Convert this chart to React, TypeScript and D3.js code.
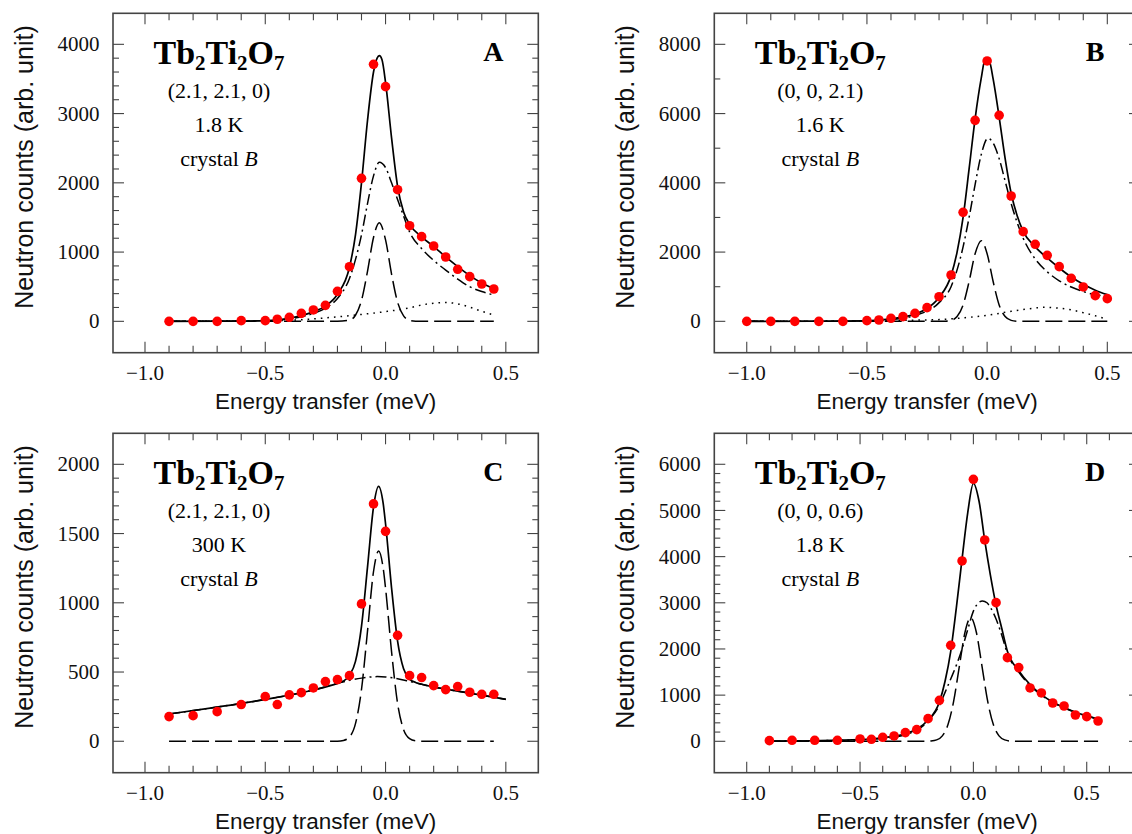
import React from 'react';
import * as d3 from 'd3';

type P = [number, number];

// ---------------- Panel A : (2.1, 2.1, 0), 1.8 K ----------------
const pointsA: P[] = [
  [-0.9, 0], [-0.8, 0], [-0.7, 0], [-0.6, 10], [-0.5, 10], [-0.45, 30], [-0.4, 58], [-0.35, 115],
  [-0.3, 164], [-0.25, 231], [-0.2, 433], [-0.15, 789], [-0.1, 2065], [-0.05, 3711], [0, 3389],
  [0.05, 1901], [0.1, 1381], [0.15, 1223], [0.2, 1088], [0.25, 929], [0.3, 751], [0.35, 645],
  [0.4, 539], [0.45, 467],
];
const solidA: P[] = [
  [-0.9, 0], [-0.7, 2], [-0.5, 12], [-0.4, 45], [-0.3, 140], [-0.25, 220], [-0.2, 390], [-0.15, 780],
  [-0.125, 1250], [-0.1, 2000], [-0.075, 2900], [-0.05, 3600], [-0.035, 3800], [-0.026, 3836],
  [-0.015, 3780], [0, 3450], [0.025, 2650], [0.05, 1950], [0.075, 1580], [0.1, 1400], [0.15, 1220],
  [0.2, 1080], [0.25, 930], [0.3, 790], [0.35, 660], [0.4, 555], [0.45, 475],
];
const dashdotA: P[] = [
  [-0.9, 0], [-0.5, 8], [-0.4, 35], [-0.3, 115], [-0.25, 190], [-0.2, 330], [-0.15, 620], [-0.1, 1250],
  [-0.075, 1700], [-0.05, 2100], [-0.026, 2296], [0, 2220], [0.025, 2000], [0.05, 1760], [0.075, 1520],
  [0.1, 1290], [0.15, 1050], [0.2, 880], [0.25, 740], [0.3, 610], [0.35, 500], [0.4, 430], [0.45, 380],
];
const dashedA: P[] = [
  [-0.9, 0], [-0.3, 0], [-0.2, 1], [-0.15, 18], [-0.125, 88], [-0.1, 302], [-0.075, 722], [-0.05, 1211],
  [-0.026, 1425], [0, 1176], [0.025, 682], [0.05, 277], [0.075, 79], [0.1, 16], [0.125, 2], [0.15, 0],
  [0.45, 0],
];
const dottedA: P[] = [
  [-0.9, 0], [-0.6, 3], [-0.4, 15], [-0.3, 35], [-0.2, 65], [-0.1, 100], [0, 140], [0.1, 195],
  [0.15, 235], [0.2, 262], [0.25, 272], [0.3, 252], [0.35, 205], [0.4, 145], [0.45, 92],
];

// ---------------- Panel B : (0, 0, 2.1), 1.6 K ----------------
const pointsB: P[] = [
  [-1.0, 0], [-0.9, 0], [-0.8, 0], [-0.7, 0], [-0.6, 0], [-0.5, 19], [-0.45, 38], [-0.4, 87],
  [-0.35, 135], [-0.3, 231], [-0.25, 395], [-0.2, 712], [-0.15, 1338], [-0.1, 3148], [-0.05, 5805],
  [0, 7519], [0.05, 5950], [0.1, 3620], [0.15, 2590], [0.2, 2224], [0.25, 1906], [0.3, 1579],
  [0.35, 1242], [0.4, 992], [0.45, 741], [0.5, 655],
];
const solidB: P[] = [
  [-1.0, 0], [-0.7, 3], [-0.5, 15], [-0.4, 70], [-0.3, 210], [-0.25, 370], [-0.2, 690], [-0.15, 1320],
  [-0.125, 2000], [-0.1, 3000], [-0.075, 4400], [-0.05, 5850], [-0.025, 7000], [-0.007, 7596],
  [0.01, 7500], [0.025, 7000], [0.05, 5900], [0.075, 4700], [0.1, 3700], [0.125, 3050], [0.15, 2600],
  [0.2, 2150], [0.25, 1830], [0.3, 1540], [0.35, 1280], [0.4, 1070], [0.45, 900], [0.5, 770],
];
const dashdotB: P[] = [
  [-1.0, 0], [-0.5, 10], [-0.4, 50], [-0.3, 170], [-0.2, 540], [-0.15, 1000], [-0.1, 2150],
  [-0.075, 3000], [-0.05, 3950], [-0.025, 4800], [0.003, 5285], [0.025, 5150], [0.05, 4700],
  [0.075, 4050], [0.1, 3400], [0.15, 2400], [0.2, 1800], [0.25, 1430], [0.3, 1170], [0.35, 990],
  [0.4, 860], [0.45, 770], [0.5, 720],
];
const dashedB: P[] = [
  [-1.0, 0], [-0.3, 0], [-0.175, 4], [-0.15, 28], [-0.125, 137], [-0.1, 473], [-0.075, 1149],
  [-0.05, 1952], [-0.024, 2330], [0, 1952], [0.025, 1149], [0.05, 473], [0.075, 137], [0.1, 28],
  [0.125, 4], [0.15, 0], [0.5, 0],
];
const dottedB: P[] = [
  [-1.0, 0], [-0.7, 5], [-0.5, 15], [-0.3, 35], [-0.2, 50], [-0.1, 100], [0, 175], [0.1, 290],
  [0.15, 340], [0.2, 385], [0.235, 404], [0.3, 380], [0.35, 330], [0.4, 250], [0.45, 160], [0.5, 60],
];

// ---------------- Panel C : (2.1, 2.1, 0), 300 K ----------------
const pointsC: P[] = [
  [-0.9, 178], [-0.8, 185], [-0.7, 214], [-0.6, 265], [-0.5, 323], [-0.45, 265], [-0.4, 335],
  [-0.35, 351], [-0.3, 385], [-0.25, 431], [-0.2, 445], [-0.15, 474], [-0.1, 992], [-0.05, 1714],
  [0, 1516], [0.05, 765], [0.1, 474], [0.15, 460], [0.2, 402], [0.25, 373], [0.3, 395], [0.35, 354],
  [0.4, 339], [0.45, 339],
];
const solidC: P[] = [
  [-0.9, 197], [-0.7, 247], [-0.5, 302], [-0.3, 370], [-0.2, 418], [-0.175, 435], [-0.15, 476],
  [-0.125, 577], [-0.1, 830], [-0.075, 1257], [-0.05, 1691], [-0.029, 1841], [-0.01, 1719],
  [0, 1571], [0.025, 1107], [0.05, 724], [0.075, 524], [0.1, 449], [0.125, 425], [0.15, 412],
  [0.2, 392], [0.3, 362], [0.4, 333], [0.5, 303],
];
const dashdotC: P[] = [
  [-0.9, 197], [-0.7, 247], [-0.5, 302], [-0.3, 370], [-0.2, 418], [-0.15, 440], [-0.1, 456],
  [-0.05, 466], [-0.035, 467], [0, 464], [0.05, 452], [0.1, 432], [0.15, 412], [0.2, 392],
  [0.3, 362], [0.4, 333], [0.5, 303],
];
const dashedC: P[] = [
  [-0.9, 0], [-0.25, 0], [-0.2, 1], [-0.175, 6], [-0.15, 31], [-0.125, 127], [-0.1, 374],
  [-0.075, 795], [-0.05, 1226], [-0.029, 1374], [-0.01, 1252], [0, 1106], [0.025, 647], [0.05, 274],
  [0.075, 84], [0.1, 19], [0.125, 3], [0.15, 0], [0.45, 0],
];

// ---------------- Panel D : (0, 0, 0.6), 1.8 K ----------------
const pointsD: P[] = [
  [-0.9, 14], [-0.8, 22], [-0.7, 22], [-0.6, 22], [-0.5, 51], [-0.45, 43], [-0.4, 87], [-0.35, 116],
  [-0.3, 188], [-0.25, 253], [-0.2, 491], [-0.15, 888], [-0.1, 2079], [-0.05, 3906], [0, 5675],
  [0.05, 4361], [0.1, 3003], [0.15, 1812], [0.2, 1596], [0.25, 1155], [0.3, 1047], [0.35, 830],
  [0.4, 765], [0.45, 570], [0.5, 534], [0.55, 440],
];
const solidD: P[] = [
  [-0.9, 5], [-0.7, 12], [-0.5, 35], [-0.4, 75], [-0.3, 165], [-0.25, 260], [-0.2, 460], [-0.15, 850],
  [-0.125, 1300], [-0.1, 1950], [-0.075, 2900], [-0.05, 3950], [-0.025, 4950], [0, 5588],
  [0.025, 5200], [0.05, 4350], [0.075, 3600], [0.1, 2950], [0.125, 2450], [0.15, 1950], [0.2, 1530],
  [0.25, 1230], [0.3, 1010], [0.35, 850], [0.4, 730], [0.45, 630], [0.5, 550], [0.55, 484],
];
const dashdotD: P[] = [
  [-0.9, 3], [-0.5, 30], [-0.4, 65], [-0.3, 140], [-0.2, 440], [-0.15, 780], [-0.125, 1060],
  [-0.1, 1350], [-0.075, 1650], [-0.05, 2000], [-0.025, 2420], [0, 2820], [0.025, 3010], [0.04, 3040],
  [0.06, 3000], [0.075, 2900], [0.1, 2650], [0.125, 2300], [0.15, 1900], [0.2, 1500], [0.25, 1210],
  [0.3, 1000], [0.35, 845], [0.4, 725], [0.45, 628], [0.5, 548], [0.55, 482],
];
const dashedD: P[] = [
  [-0.9, 0], [-0.3, 0], [-0.212, 0], [-0.187, 6], [-0.162, 30], [-0.137, 118], [-0.112, 362],
  [-0.087, 869], [-0.062, 1624], [-0.037, 2362], [-0.012, 2677], [0.013, 2362], [0.038, 1624],
  [0.063, 869], [0.088, 362], [0.113, 118], [0.138, 30], [0.163, 6], [0.188, 0], [0.55, 0],
];

// ---------------- Axis ticks and labels ----------------
const xMajorTicks = [-1.0, -0.5, 0.0, 0.5];
const xMinorABC = d3.range(-10, 6).map((i) => i / 10);
const xMinorD = d3.range(-10, 7).map((i) => i / 10);
const yMajorA = [0, 1000, 2000, 3000, 4000];
const yMajorB = [0, 2000, 4000, 6000, 8000];
const yMajorC = [0, 500, 1000, 1500, 2000];
const yMajorD = [0, 1000, 2000, 3000, 4000, 5000, 6000];
const yMinorA = d3.range(0, 4001, 200);
const yMinorB = d3.range(0, 8001, 1000);
const yMinorC = d3.range(0, 2001, 100);
const yMinorD = d3.range(0, 6001, 200);

const panelLetters = ['A', 'B', 'C', 'D'];
const wavevectors = ['(2.1, 2.1, 0)', '(0, 0, 2.1)', '(2.1, 2.1, 0)', '(0, 0, 0.6)'];
const temperatures = ['1.8 K', '1.6 K', '300 K', '1.8 K'];
const xTitle = 'Energy transfer (meV)';
const yTitle = 'Neutron counts (arb. unit)';

const SERIF = "'Liberation Serif', 'Times New Roman', Times, serif";
const SANS = "'Liberation Sans', Arial, Helvetica, sans-serif";
const FRAME = '#444';

interface Spec {
  letter: string;
  hkl: string;
  temp: string;
  left: number; right: number; top: number; bottom: number;
  xDomain: [number, number];
  yDomain: [number, number];
  xMinor: number[];
  yMajor: number[];
  yMinor: number[];
  points: P[];
  solid: P[];
  dashdot: P[];
  dashed: P[];
  dotted?: P[];
}

const specs: Spec[] = [
  { letter: panelLetters[0], hkl: wavevectors[0], temp: temperatures[0], left: 113, right: 538.3, top: 13.3, bottom: 352.7,
    xDomain: [-1.133, 0.635], yDomain: [-453, 4448], xMinor: xMinorABC, yMajor: yMajorA, yMinor: yMinorA,
    points: pointsA, solid: solidA, dashdot: dashdotA, dashed: dashedA, dotted: dottedA },
  { letter: panelLetters[1], hkl: wavevectors[1], temp: temperatures[1], left: 714.3, right: 1140, top: 13.3, bottom: 352.7,
    xDomain: [-1.135, 0.636], yDomain: [-906, 8896], xMinor: xMinorABC, yMajor: yMajorB, yMinor: yMinorB,
    points: pointsB, solid: solidB, dashdot: dashdotB, dashed: dashedB, dotted: dottedB },
  { letter: panelLetters[2], hkl: wavevectors[2], temp: temperatures[2], left: 113, right: 538.3, top: 433.3, bottom: 772.7,
    xDomain: [-1.133, 0.635], yDomain: [-227, 2224], xMinor: xMinorABC, yMajor: yMajorC, yMinor: yMinorC,
    points: pointsC, solid: solidC, dashdot: dashdotC, dashed: dashedC },
  { letter: panelLetters[3], hkl: wavevectors[3], temp: temperatures[3], left: 714.3, right: 1140, top: 433.3, bottom: 772.7,
    xDomain: [-1.143, 0.735], yDomain: [-680, 6671], xMinor: xMinorD, yMajor: yMajorD, yMinor: yMinorD,
    points: pointsD, solid: solidD, dashdot: dashdotD, dashed: dashedD },
];

const fmtX = (v: number) => (v < 0 ? '\u2212' : '') + Math.abs(v).toFixed(1);

function Panel({ s }: { s: Spec }) {
  const x = d3.scaleLinear().domain(s.xDomain).range([s.left, s.right]);
  const y = d3.scaleLinear().domain(s.yDomain).range([s.bottom, s.top]);
  const line = d3.line<P>().x((d) => x(d[0])).y((d) => y(d[1])).curve(d3.curveMonotoneX);
  const MAJ = 11, MIN = 6;
  const cx = s.left + 106;
  const yMajorSet = new Set(s.yMajor);
  const xMajorSet = new Set(xMajorTicks.map((v) => v.toFixed(1)));
  return (
    <g>
      {/* ticks */}
      <g stroke={FRAME} strokeWidth={1.1}>
        {s.xMinor.map((v) => {
          const len = xMajorSet.has(v.toFixed(1)) ? MAJ : MIN + 1;
          const px = x(v);
          return (
            <g key={'xt' + v}>
              <line x1={px} x2={px} y1={s.bottom} y2={s.bottom - len} />
              <line x1={px} x2={px} y1={s.top} y2={s.top + len} />
            </g>
          );
        })}
        {s.yMinor.map((v) => {
          const len = yMajorSet.has(v) ? MAJ : MIN;
          const py = y(v);
          return (
            <g key={'yt' + v}>
              <line x1={s.left} x2={s.left + len} y1={py} y2={py} />
              <line x1={s.right} x2={s.right - len} y1={py} y2={py} />
            </g>
          );
        })}
      </g>
      {/* frame */}
      <rect x={s.left} y={s.top} width={s.right - s.left} height={s.bottom - s.top}
        fill="none" stroke={FRAME} strokeWidth={1.6} />
      {/* tick labels */}
      <g fontFamily={SERIF} fontSize={21} fill="#111">
        {xMajorTicks.map((v) => (
          <text key={'xl' + v} x={x(v)} y={s.bottom + 27.5} textAnchor="middle">{fmtX(v)}</text>
        ))}
        {s.yMajor.map((v) => (
          <text key={'yl' + v} x={s.left - 13.5} y={y(v)} dy="0.34em" textAnchor="end">{String(v)}</text>
        ))}
      </g>
      {/* axis titles */}
      <text x={(s.left + s.right) / 2} y={s.bottom + 56.5} textAnchor="middle" fontFamily={SANS} fontSize={22.5} fill="#111">{xTitle}</text>
      <text transform={`translate(${s.left - 80},${(s.top + s.bottom) / 2 - 16}) rotate(-90)`} textAnchor="middle"
        fontFamily={SANS} fontSize={25} fill="#111">{yTitle}</text>
      {/* curves */}
      <g fill="none" stroke="#000">
        {s.dotted && <path d={line(s.dotted) || ''} strokeWidth={1.5} strokeDasharray="1.6,5" />}
        <path d={line(s.dashed) || ''} strokeWidth={1.5} strokeDasharray="17,6" />
        <path d={line(s.dashdot) || ''} strokeWidth={1.5} strokeDasharray="11,4,2,4" />
        <path d={line(s.solid) || ''} strokeWidth={1.7} />
      </g>
      {/* data points */}
      <g fill="#ff0000">
        {s.points.map((p, i) => (
          <circle key={'p' + i} cx={x(p[0])} cy={y(p[1])} r={4.8} />
        ))}
      </g>
      {/* annotations */}
      <g fontFamily={SERIF} fill="#000" textAnchor="middle">
        <text x={cx} y={s.top + 51} fontSize={34} fontWeight="bold">
          Tb<tspan fontSize={21} dy={6}>2</tspan><tspan dy={-6}>Ti</tspan><tspan fontSize={21} dy={6}>2</tspan>
          <tspan dy={-6}>O</tspan><tspan fontSize={21} dy={6}>7</tspan>
        </text>
        <text x={cx} y={s.top + 84.4} fontSize={22}>{s.hkl}</text>
        <text x={cx} y={s.top + 118.4} fontSize={22}>{s.temp}</text>
        <text x={cx} y={s.top + 152.4} fontSize={22}>crystal <tspan fontStyle="italic">B</tspan></text>
        <text x={s.right - 45} y={s.top + 48} fontSize={28} fontWeight="bold">{s.letter}</text>
      </g>
    </g>
  );
}

export default function App() {
  return (
    <svg width={1132} height={834} viewBox="0 0 1132 834"
      style={{ position: 'absolute', left: 0, top: 0, background: '#fff', display: 'block' }}>
      <rect x={0} y={0} width={1132} height={834} fill="#fff" />
      {specs.map((s) => <Panel key={s.letter} s={s} />)}
    </svg>
  );
}
